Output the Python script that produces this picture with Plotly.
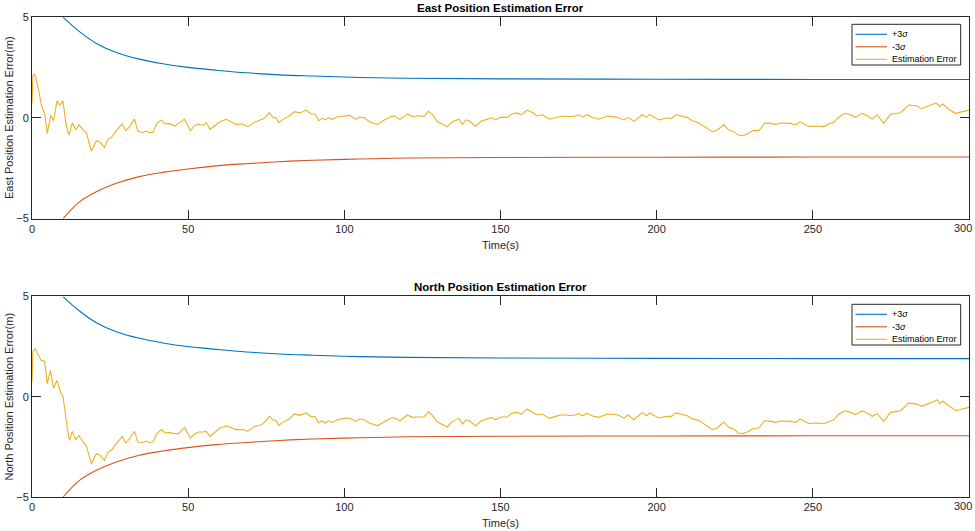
import plotly.graph_objects as go

# ---------------- data ----------------
sigma_t = [10, 15.3, 20.6, 27, 34.4, 41.9, 49.9, 59, 68.6, 79.2, 89.9, 104.8, 120, 150, 200, 250, 300]
plus3_sigma = [4.98, 4.26, 3.69, 3.24, 2.91, 2.68, 2.50, 2.36, 2.23, 2.13, 2.07, 2.0, 1.96, 1.93, 1.91, 1.90, 1.90]
minus3_sigma = [-4.99, -4.16, -3.67, -3.25, -2.92, -2.71, -2.54, -2.39, -2.28, -2.18, -2.11, -2.05, -2.0,
                -1.97, -1.96, -1.95, -1.95]

east_error = [
    (0, 0.7), (0.3, 2.1), (0.85, 2.17), (1.9, 1.54), (3.0, 0.63), (4.05, 0.21), (4.9, -0.78), (6.0, 0.13),
    (6.9, -0.15), (8.0, 0.84), (8.85, 0.63), (9.9, 0.84), (11, -0.41), (11.8, -0.86), (12.9, -0.25),
    (14, -0.61), (15, -0.36), (16.5, -0.64), (17.4, -0.74), (19, -1.65), (20.6, -1.14), (21.6, -1.19),
    (23.2, -1.47), (24.3, -1.07), (25.4, -0.98), (27, -0.64), (28.9, -0.31), (30, -0.64), (31.2, -0.45),
    (32.8, -0.07), (33.9, -0.66), (35.5, -0.73), (36.6, -0.66), (37.6, -0.74), (38.7, -0.73), (40, -0.28),
    (41.4, -0.12), (42.6, -0.31), (44, -0.28), (45.6, -0.41), (47, -0.28), (48.8, -0.07), (50.7, -0.64),
    (52, -0.41), (53.3, -0.31), (54.7, -0.38), (55.8, -0.25), (57, -0.58), (58.4, -0.41), (60.2, -0.2),
    (62.2, -0.08), (63.2, -0.16), (65.4, -0.33), (67.5, -0.31), (69.1, -0.44), (71.2, -0.23), (73.4, -0.11),
    (74.4, -0.03), (76, 0.25), (77.1, 0.02), (78.1, 0.0), (79, -0.23), (80.3, -0.08), (82.4, 0.09),
    (84, 0.3), (85.8, 0.24), (87.7, 0.38), (89.3, 0.2), (90.7, 0.17), (91.8, -0.15), (92.8, -0.03),
    (93.9, -0.11), (94.9, 0.0), (96.2, -0.08), (97.8, 0.05), (100, 0.09), (101.6, 0.12), (103.7, -0.08),
    (104.8, 0.03), (106.4, 0.0), (108, -0.2), (110.6, -0.33), (112.8, -0.11), (114.9, 0.05), (116, 0.09),
    (117.8, -0.08), (120.2, 0.19), (121.8, 0.05), (123.4, 0.1), (125.5, 0.07), (126.9, 0.32), (128.2, 0.17),
    (129.8, -0.2), (133, -0.44), (134.6, -0.2), (136.7, -0.07), (137.8, -0.33), (139, -0.11), (140.1, -0.16),
    (142, -0.43), (143.9, -0.16), (145.7, -0.08), (147.3, 0.0), (148.4, -0.11), (150, 0.02), (152.1, 0.02),
    (153.7, 0.19), (155.3, 0.24), (156.7, 0.14), (158.5, 0.38), (160.1, 0.27), (161.7, 0.09), (163.3, 0.15),
    (165.7, -0.07), (167.6, 0.0), (169.8, 0.09), (172.9, 0.05), (175.1, 0.15), (176.3, 0.03), (177.7, 0.15),
    (179.3, 0.02), (181.5, -0.07), (184.2, 0.09), (187.4, 0.02), (189.5, -0.11), (190.9, 0.02),
    (192.7, -0.18), (195.4, 0.15), (196.8, 0.03), (197.7, 0.17), (200.7, -0.11), (203.4, -0.01),
    (204.8, -0.03), (206.1, 0.15), (209.8, 0.02), (211.4, -0.15), (213.5, -0.26), (215.7, -0.46),
    (217.8, -0.69), (219.4, -0.61), (221.5, -0.35), (223.1, -0.61), (224.7, -0.69), (226.1, -0.86),
    (227.6, -0.89), (229, -0.81), (230.8, -0.64), (232.7, -0.64), (234.6, -0.28), (236.5, -0.28),
    (238.1, -0.33), (239.7, -0.26), (242.9, -0.28), (244.5, -0.36), (245.9, -0.2), (248.8, -0.44),
    (250.9, -0.41), (253.5, -0.44), (255.1, -0.3), (256.7, -0.23), (258.1, 0.0), (260.2, 0.22),
    (262.1, 0.15), (263.6, 0.02), (265.8, 0.22), (267.4, 0.1), (269, -0.07), (270.6, 0.14), (272.7, -0.28),
    (274.9, 0.17), (278.1, 0.25), (280.7, 0.63), (283.4, 0.58), (284.8, 0.45), (286.6, 0.58), (288.2, 0.66),
    (289.5, 0.73), (290.6, 0.56), (291.6, 0.68), (293.6, 0.41), (295.7, 0.22), (297.8, 0.3), (300, 0.38),
]

north_error = [
    (0, 0.76), (0.3, 2.26), (1, 2.39), (1.6, 2.18), (2.2, 2.04), (2.9, 1.81), (4.05, 1.76), (4.9, 0.65),
    (5.9, 1.31), (6.9, 0.43), (8, 0.81), (8.85, 0.38), (9.4, 0.1), (9.9, 0.05), (10.8, -1.15), (11.3, -1.56),
    (12, -2.18), (12.9, -1.73), (14, -2.14), (15, -1.94), (16.5, -2.28), (17.4, -2.44), (19, -3.34),
    (20.6, -2.84), (21.6, -2.89), (23.2, -3.17), (24.3, -2.77), (25.4, -2.67), (27, -2.34), (28.9, -1.98),
    (30, -2.31), (31.2, -2.11), (32.8, -1.73), (33.9, -2.26), (35.5, -2.28), (36.6, -2.21), (37.6, -2.28),
    (38.7, -2.26), (40, -1.84), (41.4, -1.64), (42.6, -1.81), (44, -1.78), (45.6, -1.84), (47, -1.84),
    (48.8, -1.53), (50.7, -2.06), (52, -1.86), (53.3, -1.76), (54.7, -1.76), (55.8, -1.73), (57, -1.98),
    (58.4, -1.81), (60.2, -1.56), (62.2, -1.45), (63.2, -1.51), (65.4, -1.64), (67.5, -1.64), (69.1, -1.73),
    (71.2, -1.48), (73.4, -1.4), (74.4, -1.28), (76, -0.98), (77.1, -1.15), (78.1, -1.18), (79, -1.43),
    (80.3, -1.28), (82.4, -1.11), (84, -0.86), (85.8, -0.93), (87.7, -0.81), (89.3, -0.98), (90.7, -1.01),
    (91.8, -1.31), (92.8, -1.2), (93.9, -1.31), (94.9, -1.2), (96.2, -1.28), (97.8, -1.15), (100, -1.08),
    (101.6, -1.06), (103.7, -1.23), (104.8, -1.11), (106.4, -1.15), (108, -1.31), (110.6, -1.45),
    (112.8, -1.23), (114.9, -1.06), (116, -1.05), (117.8, -1.2), (120.2, -0.91), (121.8, -1.03),
    (123.4, -1.01), (125.5, -1.01), (126.9, -0.75), (128.2, -0.93), (129.8, -1.26), (133, -1.51),
    (134.6, -1.23), (136.7, -1.08), (137.8, -1.36), (139, -1.15), (140.1, -1.2), (142, -1.46), (143.9, -1.2),
    (145.7, -1.11), (147.3, -1.03), (148.4, -1.15), (150, -1.01), (152.1, -1.01), (153.7, -0.81),
    (155.3, -0.78), (156.7, -0.88), (158.5, -0.61), (160.1, -0.76), (161.7, -0.9), (163.3, -0.86),
    (165.7, -1.08), (167.6, -0.98), (169.8, -0.9), (172.9, -0.95), (175.1, -0.85), (176.3, -0.95),
    (177.7, -0.83), (179.3, -0.95), (181.5, -1.03), (184.2, -0.86), (187.4, -0.9), (189.5, -1.06),
    (190.9, -0.91), (192.7, -1.15), (195.4, -0.78), (196.8, -0.95), (197.7, -0.81), (200.7, -1.06),
    (203.4, -0.98), (204.8, -0.98), (206.1, -0.81), (209.8, -0.95), (211.4, -1.11), (213.5, -1.18),
    (215.7, -1.4), (217.8, -1.64), (219.4, -1.56), (221.5, -1.26), (223.1, -1.53), (224.7, -1.61),
    (226.1, -1.81), (227.6, -1.84), (229, -1.76), (230.8, -1.6), (232.7, -1.56), (234.6, -1.2),
    (236.5, -1.23), (238.1, -1.28), (239.7, -1.21), (242.9, -1.23), (244.5, -1.28), (245.9, -1.11),
    (248.8, -1.35), (250.9, -1.31), (253.5, -1.35), (255.1, -1.23), (256.7, -1.15), (258.1, -0.9),
    (260.2, -0.7), (262.1, -0.78), (263.6, -0.9), (265.8, -0.71), (267.4, -0.81), (269, -0.98),
    (270.6, -0.85), (272.7, -1.23), (274.9, -0.78), (278.1, -0.7), (280.7, -0.32), (283.4, -0.37),
    (284.8, -0.48), (286.6, -0.37), (288.2, -0.28), (289.8, -0.15), (290.6, -0.35), (291.6, -0.23),
    (293.6, -0.48), (295.7, -0.7), (297.8, -0.61), (300, -0.53),
]

panel_titles = ["East Position Estimation Error", "North Position Estimation Error"]
y_titles = ["East Position Estimation Error(m)", "North Position Estimation Error(m)"]
x_title = "Time(s)"
legend_names = ["+3<i>σ</i>", "-3<i>σ</i>", "Estimation Error"]
x_ticks = [0, 50, 100, 150, 200, 250, 300]
y_ticks = [-5, 0, 5]

# ---------------- style ----------------
BLUE, RED, YELLOW = "#0072BD", "#D95319", "#EDB120"
COLORS = [BLUE, RED, YELLOW]
AX = "#262626"
FONT = "Liberation Sans, Arial, Helvetica, sans-serif"
W, H = 975, 531
ml, mr, mt, mb = 32, 6, 17, 34
pw, ph = W - ml - mr, H - mt - mb


def px_x(px):
    return (px - ml) / pw


def px_y(py):
    return 1 - (py - mt) / ph


fig = go.Figure()
errors = [east_error, north_error]
for i, err in enumerate(errors):
    xa = "x" if i == 0 else "x2"
    ya = "y" if i == 0 else "y2"
    fig.add_trace(go.Scatter(x=sigma_t, y=plus3_sigma, mode="lines", name=legend_names[0],
                             line=dict(color=BLUE, width=1.1, shape="spline"), xaxis=xa, yaxis=ya))
    fig.add_trace(go.Scatter(x=sigma_t, y=minus3_sigma, mode="lines", name=legend_names[1],
                             line=dict(color=RED, width=1.1, shape="spline"), xaxis=xa, yaxis=ya))
    fig.add_trace(go.Scatter(x=[p[0] for p in err], y=[p[1] for p in err], mode="lines", name=legend_names[2],
                             line=dict(color=YELLOW, width=1.1), xaxis=xa, yaxis=ya))

axis_common = dict(showgrid=False, zeroline=False, showline=True, linecolor=AX, linewidth=1,
                   mirror="ticks", ticks="inside", ticklen=9, tickcolor=AX, tickwidth=1,
                   automargin=False,
                   tickfont=dict(family=FONT, size=11, color=AX))

# the last x tick label sits at the figure edge: draw it right-aligned so it stays visible
x_ticktext = [str(v) for v in x_ticks[:-1]] + [""]

top_dom = [1 - (218.5 - mt) / ph, 1]
bot_dom = [0, (497.3 - 296.7) / ph]

fig.update_layout(
    width=W, height=H,
    margin=dict(l=ml, r=mr, t=mt, b=mb, autoexpand=False),
    paper_bgcolor="white", plot_bgcolor="white",
    font=dict(family=FONT, size=11, color=AX),
    showlegend=False,
    xaxis=dict(axis_common, range=[0, 300], tickvals=x_ticks, ticktext=x_ticktext, anchor="y",
               title=dict(text=x_title, standoff=7, font=dict(size=11))),
    yaxis=dict(axis_common, range=[-5, 5], tickvals=y_ticks, domain=top_dom, anchor="x",
               title=dict(text=y_titles[0], standoff=0, font=dict(size=11))),
    xaxis2=dict(axis_common, range=[0, 300], tickvals=x_ticks, ticktext=x_ticktext, anchor="y2",
                title=dict(text=x_title, standoff=7, font=dict(size=11))),
    yaxis2=dict(axis_common, range=[-5, 5], tickvals=y_ticks, domain=bot_dom, anchor="x2",
                title=dict(text=y_titles[1], standoff=0, font=dict(size=11))),
)

for xr, yr in [("x", "y domain"), ("x2", "y2 domain")]:
    fig.add_annotation(text=str(x_ticks[-1]), xref=xr, yref=yr, x=x_ticks[-1], y=0,
                       xanchor="right", yanchor="top", xshift=5, yshift=-1, showarrow=False,
                       font=dict(family=FONT, size=11, color=AX))

# panel titles
for i, dom in enumerate([top_dom, bot_dom]):
    fig.add_annotation(text="<b>" + panel_titles[i] + "</b>", xref="paper", yref="paper",
                       x=0.5, y=dom[1], yanchor="bottom", xanchor="center", showarrow=False,
                       yshift=1, font=dict(family=FONT, size=11.5, color="#000"))

# MATLAB-style compact legends (box, line samples, labels)
for box_top in [24.3, 304.3]:
    fig.add_shape(type="rect", xref="paper", yref="paper",
                  x0=px_x(852), x1=px_x(960.7), y0=px_y(box_top), y1=px_y(box_top + 40.7),
                  line=dict(color=AX, width=1), fillcolor="white", layer="above")
    for k in range(3):
        ry = box_top + 10 + k * 12.5
        fig.add_shape(type="line", xref="paper", yref="paper",
                      x0=px_x(855.5), x1=px_x(887), y0=px_y(ry), y1=px_y(ry),
                      line=dict(color=COLORS[k], width=1.1), layer="above")
        fig.add_annotation(text=legend_names[k], xref="paper", yref="paper",
                           x=px_x(889.5), y=px_y(ry), xanchor="left", yanchor="middle",
                           showarrow=False, font=dict(family=FONT, size=9, color="#000"))

fig.write_html("out.html")
